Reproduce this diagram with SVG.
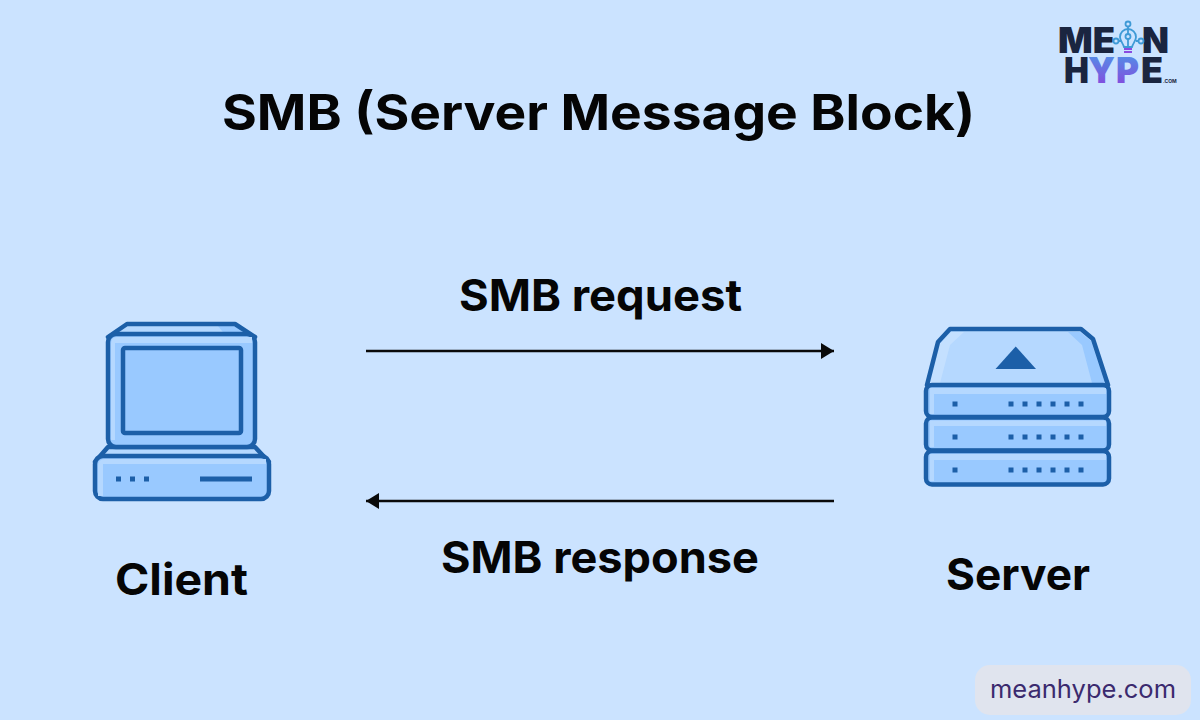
<svg xmlns="http://www.w3.org/2000/svg" width="1200" height="720" viewBox="0 0 1200 720">
<style>
.t{font-family:"Inter","Noto Sans","Liberation Sans",sans-serif;font-weight:700;fill:#050505}
.o{stroke:#1c5fa8;stroke-width:4.5;stroke-linejoin:round;stroke-linecap:round}
.d{fill:#1c5fa8}
.l{fill:#b5d8ff}
.m{fill:#99c9ff}
.c{stroke:#0a0a0a;stroke-width:2.5;fill:none}
.lg{font-family:"Inter","Liberation Sans",sans-serif;font-weight:900;font-size:35px;fill:#1a2540}
</style>
<defs>
<linearGradient id="g2" x1="0" x2="0" y1="0" y2="1"><stop offset="0" stop-color="#4a9ae8"/><stop offset="1" stop-color="#8e3fdc"/></linearGradient>
<marker id="a" markerUnits="userSpaceOnUse" markerWidth="14" markerHeight="16" refX="13" refY="8" orient="auto-start-reverse"><path d="M0 0L13 8L0 16Z" fill="#0a0a0a"/></marker>
</defs>
<rect width="1200" height="720" fill="#cbe3ff"/>
<text id="title" class="t" x="222" y="130" font-size="50" textLength="753" lengthAdjust="spacingAndGlyphs">SMB (Server Message Block)</text>
<g id="connectors">
<line class="c" x1="366" y1="351" x2="834" y2="351" marker-end="url(#a)"/>
<line class="c" x1="834" y1="501" x2="366" y2="501" marker-end="url(#a)"/>
</g>
<g id="label-request"><text class="t" x="459" y="311" font-size="44" textLength="283" lengthAdjust="spacingAndGlyphs">SMB request</text></g>
<g id="label-response"><text class="t" x="441" y="573" font-size="44" textLength="318" lengthAdjust="spacingAndGlyphs">SMB response</text></g>
<g id="client">
<path class="l" d="M108 337L127 324H235L255 337V350H108Z"/>
<path class="m" d="M218 326H234L250 336H226Z"/>
<path class="o" fill="none" d="M108 337L127 324H235L255 337"/>
<path class="o l" d="M108 447L95 462H269L255 447Z"/>
<rect class="o" x="108" y="334" width="147" height="113" rx="8" fill="#99c9ff"/>
<path class="l" d="M111 344Q111 337 117 337H252V343H115V440H111Z"/>
<rect class="o m" x="123" y="348" width="118" height="85" rx="2"/>
<rect class="o" x="95" y="456" width="174" height="43" rx="8" fill="#99c9ff"/>
<path class="l" d="M98 466Q98 459 105 459H266V464H103V496H98Z"/>
<rect class="d" x="116" y="476.500" width="5" height="5"/>
<rect class="d" x="130" y="476.500" width="5" height="5"/>
<rect class="d" x="144" y="476.500" width="5" height="5"/>
<rect class="d" x="200" y="476.500" width="52" height="5"/>
<text class="t" x="115" y="595" font-size="44" textLength="133" lengthAdjust="spacingAndGlyphs">Client</text>
</g>
<g id="server">
<path fill="#b5d8ff" d="M927 385L938 342L950 329H1081L1093 339L1108 385Z"/>
<path fill="#c4e0ff" d="M930 383L940 344L951 332H964L950 345L940 383Z"/>
<path class="m" d="M1068 332H1080L1091 341L1105 383H1092L1082 345Z"/>
<path class="o" fill="none" d="M927 385L938 342L950 329H1081L1093 339L1108 385"/>
<path class="d" d="M1015.700 346.500L1036 369H995.500Z"/>
<rect class="o m" x="926" y="385" width="183" height="32" rx="6"/>
<rect class="o m" x="926" y="417.500" width="183" height="33" rx="6"/>
<rect class="o m" x="926" y="451" width="183" height="33.500" rx="6"/>
<path class="l" d="M930 388H1106V394H934V414H930Z"/>
<path class="l" d="M930 420.500H1106V426H934V447H930Z"/>
<path class="l" d="M930 454H1106V460H934V481H930Z"/>
<g class="d">
<rect x="952.500" y="401.500" width="5" height="5"/><rect x="1008.500" y="401.500" width="5" height="5"/><rect x="1022.500" y="401.500" width="5" height="5"/><rect x="1036.500" y="401.500" width="5" height="5"/><rect x="1050.500" y="401.500" width="5" height="5"/><rect x="1064.500" y="401.500" width="5" height="5"/><rect x="1078.500" y="401.500" width="5" height="5"/>
<rect x="952.500" y="434.500" width="5" height="5"/><rect x="1008.500" y="434.500" width="5" height="5"/><rect x="1022.500" y="434.500" width="5" height="5"/><rect x="1036.500" y="434.500" width="5" height="5"/><rect x="1050.500" y="434.500" width="5" height="5"/><rect x="1064.500" y="434.500" width="5" height="5"/><rect x="1078.500" y="434.500" width="5" height="5"/>
<rect x="952.500" y="467.500" width="5" height="5"/><rect x="1008.500" y="467.500" width="5" height="5"/><rect x="1022.500" y="467.500" width="5" height="5"/><rect x="1036.500" y="467.500" width="5" height="5"/><rect x="1050.500" y="467.500" width="5" height="5"/><rect x="1064.500" y="467.500" width="5" height="5"/><rect x="1078.500" y="467.500" width="5" height="5"/>
</g>
<text class="t" x="946" y="590" font-size="44" textLength="144" lengthAdjust="spacingAndGlyphs">Server</text>
</g>
<g id="logo">
<text class="lg" x="1058" y="53" textLength="57" lengthAdjust="spacingAndGlyphs">ME</text>
<text class="lg" x="1142" y="53" textLength="27" lengthAdjust="spacingAndGlyphs">N</text>
<text class="lg" x="1064" y="83" textLength="25" lengthAdjust="spacingAndGlyphs">H</text>
<text class="lg" x="1088" y="83" textLength="27" lengthAdjust="spacingAndGlyphs" style="fill:url(#g2)">Y</text>
<text class="lg" x="1116" y="83" textLength="23" lengthAdjust="spacingAndGlyphs" style="fill:url(#g2)">P</text>
<text class="lg" x="1141" y="83" textLength="22" lengthAdjust="spacingAndGlyphs">E</text>
<text x="1163" y="83" font-family="Inter,'Liberation Sans',sans-serif" font-size="5" font-weight="700" fill="#1a2540">.COM</text>
<g fill="none" stroke="#3f9ad6" stroke-width="1.800">
<circle cx="1128" cy="24" r="2.500"/><circle cx="1116" cy="41" r="2.500"/><circle cx="1141" cy="41" r="2.500"/>
<path d="M1128 27V34M1119 41H1121M1136 41H1138"/>
<path d="M1124 47C1123 43 1120 41 1120 37A8 8 0 0 1 1136 37C1136 41 1133 43 1132 47Z"/>
<circle cx="1128" cy="36.500" r="2.500"/>
<path d="M1128 39V47"/>
</g>
<path d="M1124 49H1132M1124 52H1132" stroke="#8a4be0" stroke-width="2"/>
</g>
<g id="watermark">
<rect x="975" y="665" width="216" height="50" rx="15" fill="#e0e4ee"/>
<text x="990" y="698" font-family="Inter,'Liberation Sans',sans-serif" font-size="25" fill="#3b2a6e" textLength="186" lengthAdjust="spacingAndGlyphs">meanhype.com</text>
</g>
</svg>
